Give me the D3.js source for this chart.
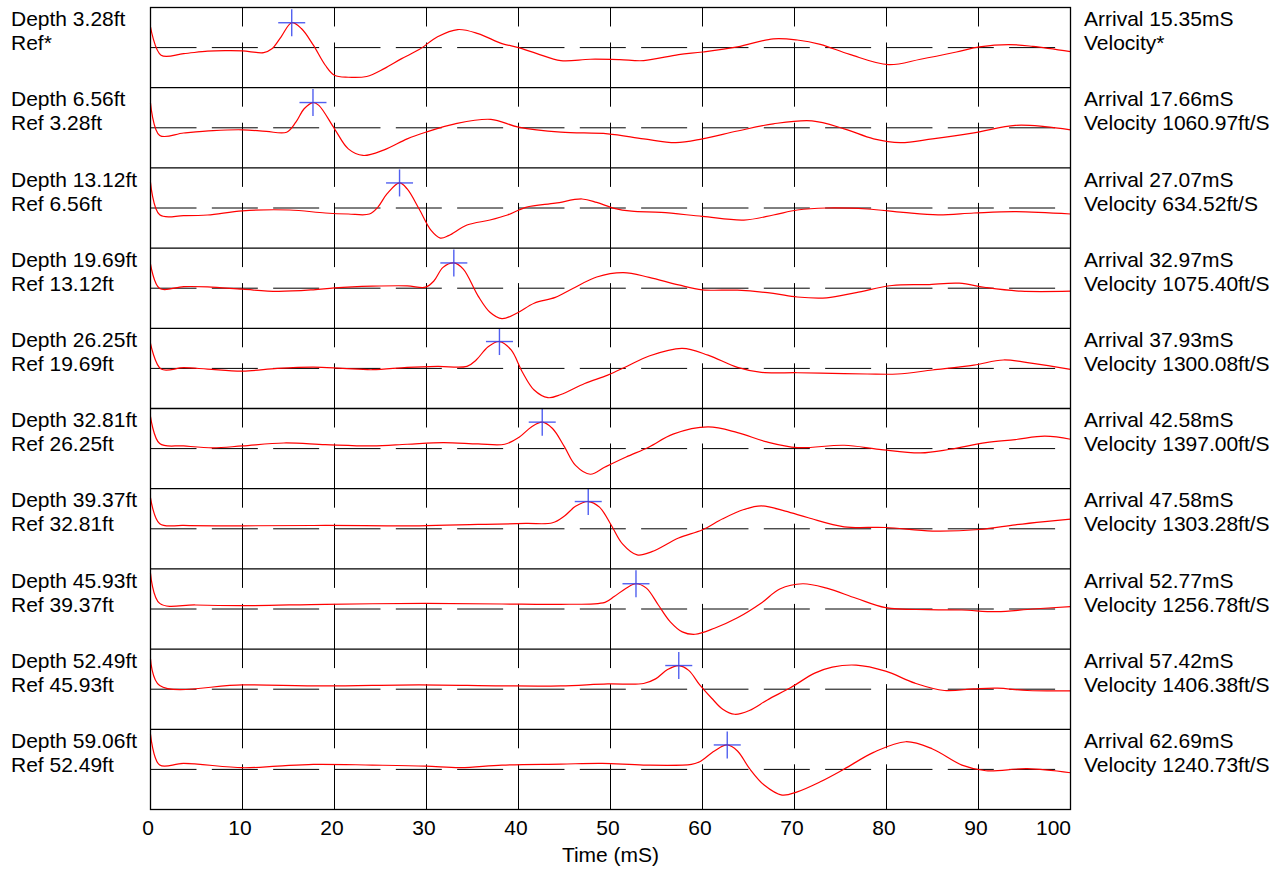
<!DOCTYPE html>
<html>
<head>
<meta charset="utf-8">
<script src="https://cdn.jsdelivr.net/npm/d3@7"></script>
<style>
  html, body { margin: 0; padding: 0; background: #fff; }
  svg { display: block; }
  text { font-family: "Liberation Sans", Arial, sans-serif; fill: #000; }
</style>
</head>
<body>
<svg id="chart" width="1285" height="869"></svg>
<script>
// Receiver depths, reference depths, picked arrivals and interval velocities
const depths = ["3.28", "6.56", "13.12", "19.69", "26.25", "32.81", "39.37", "45.93", "52.49", "59.06"];
const refs = ["*", " 3.28ft", " 6.56ft", " 13.12ft", " 19.69ft", " 26.25ft", " 32.81ft", " 39.37ft", " 45.93ft", " 52.49ft"];
const arrivals = [15.35, 17.66, 27.07, 32.97, 37.93, 42.58, 47.58, 52.77, 57.42, 62.69];
const velocities = ["*", " 1060.97ft/S", " 634.52ft/S", " 1075.40ft/S", " 1300.08ft/S", " 1397.00ft/S", " 1303.28ft/S", " 1256.78ft/S", " 1406.38ft/S", " 1240.73ft/S"];
const timeTicks = [0, 10, 20, 30, 40, 50, 60, 70, 80, 90, 100];

// Normalised trace amplitudes, [time (mS), amplitude]
const trace1 = [[0,0.52],[1.15,-0.19],[3.6,-0.15],[6.2,-0.09],[8.1,-0.075],[10,-0.08],[12.3,-0.125],[13.2,-0.03],[14.2,0.27],[15.35,0.62],[16.4,0.475],[17.7,0.06],[19,-0.44],[20,-0.69],[21.5,-0.74],[23.5,-0.72],[25.4,-0.525],[27.3,-0.275],[29.2,-0.05],[31.2,0.27],[33.4,0.45],[35.6,0.35],[38.2,0.1],[40,0],[42,-0.15],[44.6,-0.325],[47.8,-0.29],[51,-0.3],[53.6,-0.325],[57.4,-0.175],[60,-0.11],[63.8,0.017],[67.7,0.22],[70.3,0.19],[72.8,0.08],[76,-0.17],[80.2,-0.425],[83.7,-0.29],[87.6,-0.11],[90.1,0.017],[93.3,0.075],[95.9,0.03],[100,-0.1]];
const trace2 = [[0,0.62],[1,-0.19],[3.6,-0.13],[6.8,-0.07],[10,-0.05],[12.6,-0.09],[14.8,-0.11],[15.8,0.14],[16.7,0.475],[17.66,0.63],[18.3,0.56],[20,-0.025],[21.5,-0.525],[23.1,-0.69],[25.4,-0.55],[27.9,-0.275],[29.9,-0.11],[33.1,0.1],[37,0.21],[40,0.017],[44.6,-0.11],[49.7,-0.15],[53.6,-0.275],[57.1,-0.37],[60,-0.275],[63.8,-0.08],[67.7,0.1],[71.9,0.175],[75.4,-0.025],[78.6,-0.275],[81.5,-0.37],[85,-0.275],[89.5,-0.125],[94,0.06],[97.2,0.03],[100,-0.05]];
const trace3 = [[0,0.64],[1,-0.17],[3.6,-0.19],[6.2,-0.175],[10,-0.07],[15.1,-0.05],[19,-0.125],[21.5,-0.15],[23.8,-0.15],[24.7,0.017],[25.7,0.35],[27.07,0.625],[27.9,0.475],[29.2,-0.025],[30.5,-0.56],[31.5,-0.75],[32.4,-0.69],[34.4,-0.425],[36.9,-0.3],[38.8,-0.175],[40.8,0.017],[44,0.12],[46.9,0.225],[48.5,0.14],[50.4,-0.008],[52.3,-0.08],[55.5,-0.11],[60,-0.21],[64.5,-0.3],[67.7,-0.175],[70.3,-0.05],[73.5,0],[77.9,-0.025],[81.8,-0.11],[85.6,-0.17],[89.5,-0.125],[94,-0.09],[100,-0.15]];
const trace4 = [[0,0.6],[1,-0.008],[3.6,0.04],[6.2,0.033],[10,-0.025],[13.8,-0.08],[17.7,-0.04],[20,0.008],[24.1,0.05],[27.9,0.058],[29.9,0.025],[30.8,0.18],[31.8,0.52],[32.97,0.63],[34,0.475],[35.6,-0.19],[36.9,-0.6],[38.2,-0.76],[39.8,-0.625],[41.7,-0.375],[44,-0.23],[45.9,-0.008],[48.5,0.28],[51.4,0.39],[54.2,0.27],[57.4,0.083],[60,-0.04],[63.8,-0.05],[67.7,-0.13],[70.3,-0.22],[73.5,-0.24],[76.7,-0.11],[80.6,0.067],[84.4,0.09],[87.9,0.125],[90.8,0.017],[94.6,-0.075],[100,-0.075]];
const trace5 = [[0,0.625],[1.15,-0.017],[3.6,0.017],[6.2,-0.017],[10,-0.067],[13.8,0],[17.7,0.033],[20.9,0],[24.1,-0.033],[27.9,0.025],[31.2,0.05],[34.4,0.05],[35.4,0.21],[36.7,0.54],[37.93,0.67],[39.2,0.46],[40.4,-0.083],[41.7,-0.54],[43.2,-0.73],[44.6,-0.65],[47.2,-0.375],[49.7,-0.167],[51.7,0.042],[54.2,0.31],[57.8,0.5],[60.6,0.33],[63.8,0.025],[66.4,-0.1],[70.3,-0.108],[74.1,-0.125],[77.9,-0.14],[81.2,-0.14],[85,-0.04],[89.5,0.083],[92.7,0.21],[95.9,0.125],[100,-0.025]];
const trace6 = [[0,0.8],[1,0.125],[3.6,0.067],[6.8,0.017],[10,0.067],[14.5,0.14],[19,0.1],[24.1,0.067],[27.9,0.108],[31.8,0.15],[35.6,0.117],[38.5,0.108],[40.1,0.29],[41.4,0.54],[42.58,0.66],[43.7,0.5],[45,0.042],[46.2,-0.42],[47.8,-0.64],[49.4,-0.46],[51.7,-0.21],[54.2,0.042],[56.8,0.36],[60.6,0.54],[63.8,0.4],[67,0.167],[70.3,0.025],[75.4,0.083],[79.2,-0.017],[83.7,-0.108],[86.9,-0.017],[90.8,0.15],[94,0.225],[97.2,0.31],[100,0.233]];
const trace7 = [[0,0.77],[1,0.125],[3.6,0.083],[10,0.075],[19,0.083],[29.2,0.075],[35.6,0.108],[40.8,0.133],[43.7,0.15],[45,0.32],[46.2,0.56],[47.58,0.68],[48.8,0.54],[50.1,0.083],[51.3,-0.375],[52.9,-0.65],[54.5,-0.57],[57.4,-0.23],[60,-0.025],[62.2,0.25],[64.5,0.48],[66.4,0.57],[69,0.44],[71.5,0.275],[75.4,0.05],[79.9,0.033],[85,-0.058],[90.1,-0.017],[94,0.1],[97.2,0.18],[100,0.24]];
const trace8 = [[0,0.89],[1,0.14],[4.9,0.1],[10,0.083],[19,0.117],[29.9,0.14],[38.2,0.125],[44.6,0.117],[49.4,0.167],[50.4,0.31],[51.7,0.52],[52.77,0.63],[53.9,0.52],[55.2,0.1],[56.5,-0.32],[57.8,-0.57],[59.2,-0.63],[61.3,-0.48],[63.8,-0.22],[66.4,0.15],[68.4,0.5],[70.9,0.63],[73.5,0.52],[76.7,0.267],[79.9,0.033],[84.4,-0.017],[88.2,-0.025],[92,-0.067],[95.9,0],[100,0.058]];
const trace9 = [[0,0.76],[1,0.092],[10,0.108],[19,0.083],[29.2,0.108],[38.2,0.083],[44.6,0.083],[49.7,0.133],[53.6,0.142],[54.9,0.258],[56.2,0.49],[57.42,0.59],[58.5,0.47],[59.7,0.108],[61,-0.225],[62.2,-0.5],[63.5,-0.625],[65.1,-0.53],[67.05,-0.267],[69.6,0.042],[72.2,0.4],[74.1,0.55],[76.7,0.6],[79.9,0.45],[83.1,0.15],[86.3,-0.033],[89.5,0.008],[92.05,0.025],[95.3,-0.033],[100,-0.042]];
const trace10 = [[0,0.875],[1,0.108],[3.6,0.15],[10,0.042],[13.8,0.083],[17.7,0.125],[24.1,0.108],[29.9,0.083],[33.7,0.042],[38.2,0.108],[44.6,0.133],[49.1,0.15],[53.6,0.108],[58.8,0.125],[59.7,0.19],[61.3,0.46],[62.69,0.61],[63.8,0.46],[65.1,0.025],[66.7,-0.39],[68.65,-0.64],[70.3,-0.56],[72.8,-0.31],[75.4,0.008],[78.6,0.425],[82.1,0.69],[85,0.51],[88.2,0.108],[90.8,-0.033],[95.3,0.017],[100,-0.083]];
const traces = [trace1, trace2, trace3, trace4, trace5, trace6, trace7, trace8, trace9, trace10];

// Layout
const plotLeft = 150.5, plotRight = 1070.5, plotTop = 7.5, rowH = 80.2;
const nRows = traces.length;
const plotBottom = plotTop + rowH * nRows;
const labelSize = "21px";

const svg = d3.select("#chart");
const x = d3.scaleLinear().domain([0, 100]).range([plotLeft, plotRight]);
const band = d3.scaleBand().domain(d3.range(nRows)).range([plotTop, plotBottom]).paddingInner(0).paddingOuter(0);

const gridG = svg.append("g");
const traceG = svg.append("g");
const frameG = svg.append("g");

const gridTimes = timeTicks.filter(t => t > 0 && t < 100);

traces.forEach((trace, i) => {
  const top = band(i);
  const y = d3.scaleLinear().domain([-1, 1]).range([top + rowH, top]);
  const base = y(0);

  // broken vertical grid lines in each row
  gridTimes.forEach(t => {
    gridG.append("line")
      .attr("x1", x(t)).attr("x2", x(t))
      .attr("y1", top).attr("y2", top + 19)
      .attr("stroke", "#000").attr("stroke-width", 1);
    gridG.append("line")
      .attr("x1", x(t)).attr("x2", x(t))
      .attr("y1", top + 35).attr("y2", top + rowH)
      .attr("stroke", "#000").attr("stroke-width", 1);
  });

  // dashed zero line
  gridG.append("line")
    .attr("x1", x(0)).attr("x2", x(100))
    .attr("y1", base).attr("y2", base)
    .attr("stroke", "#000").attr("stroke-width", 1)
    .attr("stroke-dasharray", "46,15.33");

  // waveform
  const line = d3.line()
    .x(d => x(d[0]))
    .y(d => y(d[1]))
    .curve(d3.curveCatmullRom.alpha(0.5));
  traceG.append("path")
    .datum(trace)
    .attr("d", line)
    .attr("fill", "none")
    .attr("stroke", "#ff0000")
    .attr("stroke-width", 1.2);

  // arrival pick marker
  const at = arrivals[i];
  const pick = trace.reduce((a, b) => Math.abs(b[0] - at) < Math.abs(a[0] - at) ? b : a);
  const mx = x(at), my = y(pick[1]);
  const mk = traceG.append("g").attr("stroke", "#3344ee").attr("stroke-width", 1.4).attr("opacity", 0.85);
  mk.append("line").attr("x1", mx - 13.5).attr("x2", mx + 13.5).attr("y1", my).attr("y2", my);
  mk.append("line").attr("x1", mx).attr("x2", mx).attr("y1", my - 13.5).attr("y2", my + 13.5);

  // left labels
  const lt = svg.append("text").attr("x", 11).attr("y", top + 18.7).style("font-size", labelSize);
  lt.append("tspan").attr("x", 11).text("Depth " + depths[i] + "ft");
  lt.append("tspan").attr("x", 11).attr("y", top + 42.7).text("Ref" + refs[i]);

  // right labels
  const rt = svg.append("text").attr("x", 1084).attr("y", top + 18.7).style("font-size", labelSize);
  rt.append("tspan").attr("x", 1084).text("Arrival " + arrivals[i].toFixed(2) + "mS");
  rt.append("tspan").attr("x", 1084).attr("y", top + 42.7).text("Velocity" + velocities[i]);
});

// row separators and frame
d3.range(1, nRows).forEach(i => {
  frameG.append("line")
    .attr("x1", plotLeft).attr("x2", plotRight)
    .attr("y1", band(i)).attr("y2", band(i))
    .attr("stroke", "#000").attr("stroke-width", 1.3);
});
frameG.append("rect")
  .attr("x", plotLeft).attr("y", plotTop)
  .attr("width", plotRight - plotLeft).attr("height", plotBottom - plotTop)
  .attr("fill", "none").attr("stroke", "#000").attr("stroke-width", 1.3);

// time axis; the last label is kept inside the plot width
const axis = d3.axisBottom(x).tickValues(timeTicks).tickSize(0).tickPadding(0).tickFormat(d3.format("d"));
const axG = svg.append("g").attr("transform", `translate(0,${plotBottom})`).call(axis);
axG.select(".domain").remove();
axG.selectAll("text")
  .attr("y", 25).attr("dy", 0)
  .attr("x", d => d === 100 ? 0 : -3)
  .attr("text-anchor", d => d === 100 ? "end" : "middle")
  .style("font-size", labelSize)
  .style("font-family", "'Liberation Sans', Arial, sans-serif")
  .attr("fill", "#000");

svg.append("text")
  .attr("x", (plotLeft + plotRight) / 2)
  .attr("y", 862)
  .attr("text-anchor", "middle")
  .style("font-size", labelSize)
  .text("Time (mS)");
</script>
</body>
</html>
